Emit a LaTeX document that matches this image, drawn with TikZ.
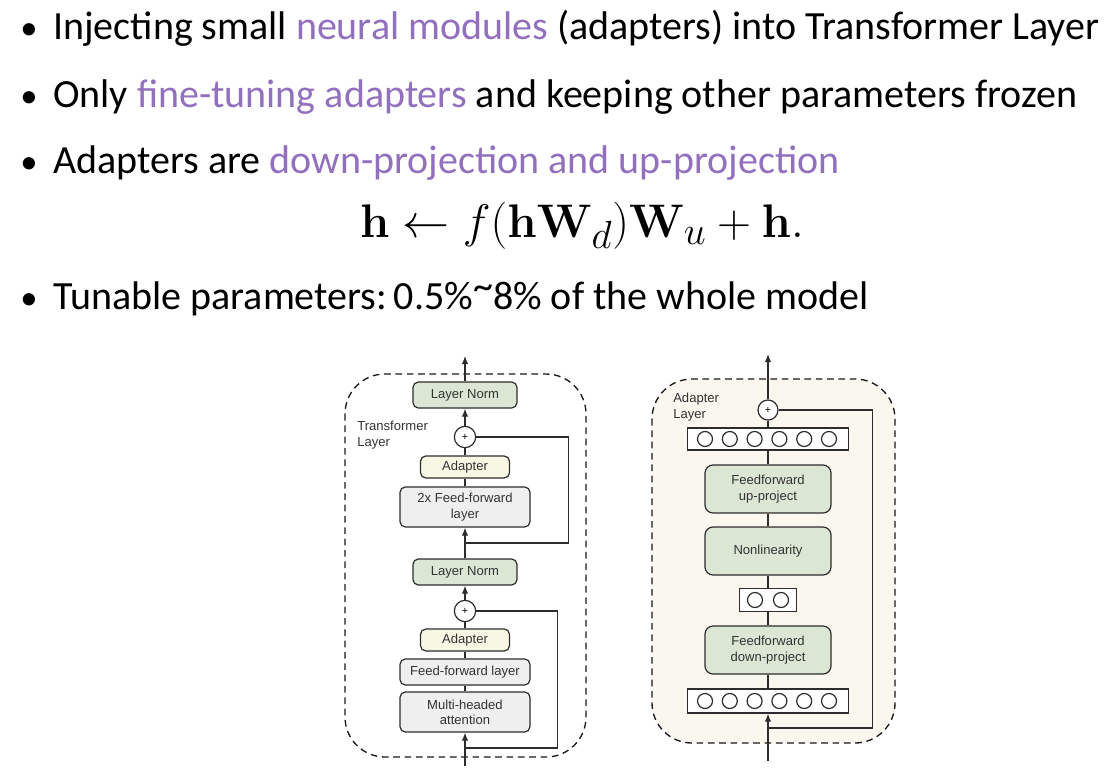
\documentclass[tikz,border=0pt]{standalone}
\usepackage{amsmath}
\usepackage{graphicx}
\usepackage[no-math]{fontspec}
\setmainfont{Carlito}
\newfontfamily\diagfont{Liberation Sans}
\usepackage{tikz}
\usepackage{xcolor}
\usetikzlibrary{arrows.meta, positioning, shapes.misc}
\definecolor{slidepurple}{RGB}{146,112,190}
\definecolor{normgreen}{RGB}{220,230,212}
\definecolor{adaptcream}{RGB}{247,247,228}
\definecolor{blockgray}{RGB}{239,239,239}
\definecolor{panelcream}{RGB}{249,247,238}
\definecolor{boxline}{RGB}{45,45,45}
\tikzstyle{bullet} = [anchor=base west, inner sep=0pt, font={\fontsize{30}{35}\selectfont}]
\tikzstyle{block} = [rectangle, rounded corners=4pt, draw=boxline, line width=0.9pt, align=center, inner sep=1pt, text=black!80, font={\diagfont\fontsize{9.8}{11.5}\selectfont}]
\tikzstyle{norm} = [block, fill=normgreen, minimum width=78pt, minimum height=19.5pt]
\tikzstyle{adapter} = [block, fill=adaptcream, minimum width=66.75pt, minimum height=16.5pt]
\tikzstyle{sublayer} = [block, fill=blockgray, minimum width=97.5pt]
\tikzstyle{project} = [block, rounded corners=6pt, fill=normgreen, minimum width=94.5pt, minimum height=36pt]
\tikzstyle{plus} = [circle, draw=boxline, fill=white, line width=0.9pt, minimum size=16pt, inner sep=0pt, font={\diagfont\fontsize{8}{9}\selectfont}]
\tikzstyle{neurons} = [rectangle, draw=boxline, fill=white, line width=0.9pt, minimum height=16.5pt]
\tikzstyle{neuron} = [circle, draw=boxline, line width=0.9pt, minimum size=11.25pt, inner sep=0pt]
\tikzstyle{arrow} = [line width=0.9pt, draw=boxline, -{Latex[length=6pt,width=4.8pt]}]
\tikzstyle{line} = [line width=0.9pt, draw=boxline]
\tikzstyle{layerbox} = [draw=black!90, line width=1pt, dash pattern=on 5pt off 3.5pt, rounded corners=30pt]
\tikzstyle{boxlabel} = [anchor=north west, align=left, inner sep=0pt, text=black!80, font={\diagfont\fontsize{9.8}{11.5}\selectfont}]
\tikzset{
  font={\fontsize{30}{35}\selectfont}}

\begin{document}
\begin{tikzpicture}[x=0.75pt, y=-0.75pt]
    \useasboundingbox [fill=white] (0,0) rectangle (1110,771);

    % slide text
    \node (b1) [bullet, font={\fontsize{26}{30}\selectfont}] at (20,39) {\textbullet};
    \node (t1) [bullet] at (53,39) {Injecting small {\color{slidepurple}neural modules} (adapters) into Transformer Layer};
    \node (b2) [bullet, font={\fontsize{26}{30}\selectfont}] at (20,107) {\textbullet};
    \node (t2) [bullet] at (53,107) {Only {\color{slidepurple}fine-tuning adapters} and keeping other parameters frozen};
    \node (b3) [bullet, font={\fontsize{26}{30}\selectfont}] at (20,173) {\textbullet};
    \node (t3) [bullet] at (53,173) {Adapters are {\color{slidepurple}down-projection and up-projection}};
    \node (eq) at (582,226) {\fontsize{24.88}{30}\selectfont\scalebox{1.42}{$\mathbf{h} \leftarrow f(\mathbf{h}\mathbf{W}_d)\mathbf{W}_u + \mathbf{h}.$}};
    \node (b4) [bullet, font={\fontsize{26}{30}\selectfont}] at (20,309) {\textbullet};
    \node (t4) [bullet] at (53,309) {Tunable parameters:\,0.5\%\raisebox{0.25em}{\textasciitilde}8\% of the whole model};

    % transformer layer
    \draw [layerbox] (345,374) rectangle (586,757);
    \node (lnA) [norm] at (465,395) {Layer Norm};
    \node (plusA) [plus] at (465,437) {+};
    \node (adA) [adapter] at (465,467) {Adapter};
    \node (ffA) [sublayer, minimum height=30pt] at (465,507) {2x Feed-forward\\layer};
    \node (lnB) [norm] at (465,572) {Layer Norm};
    \node (plusB) [plus] at (465,611) {+};
    \node (adB) [adapter] at (465,640) {Adapter};
    \node (ffB) [sublayer, minimum height=19.5pt] at (465,672) {Feed-forward layer};
    \node (mha) [sublayer, minimum height=30pt] at (465,712) {Multi-headed\\attention};
    \node (tlabel) [boxlabel] at (357,421) {Transformer\\Layer};

    \coordinate (outA) at (465,356);
    \coordinate (inA) at (465,766);
    \coordinate (joinA) at (465,543);
    \coordinate (joinB) at (465,748);

    \draw [arrow] (lnA) -- (outA);
    \draw [arrow] (plusA) -- (lnA);
    \draw [line] (adA) -- (plusA);
    \draw [line] (ffA) -- (adA);
    \draw [arrow] (lnB) -- (ffA);
    \draw [line] (plusA.east) -- ++(92,0) |- (joinA);
    \draw [arrow] (plusB) -- (lnB);
    \draw [line] (adB) -- (plusB);
    \draw [line] (ffB) -- (adB);
    \draw [line] (mha) -- (ffB);
    \draw [arrow] (inA) -- (mha);
    \draw [line] (plusB.east) -- ++(81,0) |- (joinB);

    % adapter layer
    \draw [layerbox, fill=panelcream] (652,379) rectangle (895,743);
    \node (plusR) [plus, minimum size=15pt] at (768,410) {+};
    \node (topbar) [neurons, minimum width=120.75pt] at (768,439) {};
    \foreach \i in {0,...,5}
        \node (topn\i) [neuron] at (705+\i*24.8,439) {};
    \node (up) [project] at (768,489) {Feedforward\\up-project};
    \node (nonlin) [project] at (768,551) {Nonlinearity};
    \node (midbar) [neurons, minimum width=42.75pt, minimum height=17.25pt] at (768,600) {};
    \foreach \i in {0,1}
        \node (midn\i) [neuron] at (755+\i*26,600) {};
    \node (down) [project] at (768,650) {Feedforward\\down-project};
    \node (botbar) [neurons, minimum width=120.75pt, minimum height=18pt] at (768,701) {};
    \foreach \i in {0,...,5}
        \node (botn\i) [neuron] at (705+\i*24.8,701) {};
    \node (alabel) [boxlabel] at (673,393) {Adapter\\Layer};

    \coordinate (outR) at (768,354);
    \coordinate (inR) at (768,761);
    \coordinate (joinR) at (768,728);

    \draw [arrow] (plusR) -- (outR);
    \draw [line] (topbar) -- (plusR);
    \draw [line] (up) -- (topbar);
    \draw [line] (nonlin) -- (up);
    \draw [line] (midbar) -- (nonlin);
    \draw [line] (down) -- (midbar);
    \draw [line] (botbar) -- (down);
    \draw [arrow] (inR) -- (botbar);
    \draw [line] (plusR.east) -- ++(94,0) |- (joinR);
\end{tikzpicture}
\end{document}
